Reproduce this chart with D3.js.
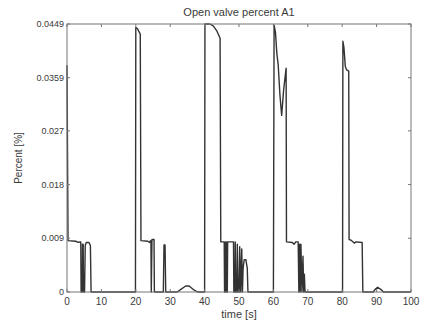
<!DOCTYPE html>
<html lang="en">
<head>
<meta charset="UTF-8">
<title>Open valve percent A1</title>
<script src="https://d3js.org/d3.v7.min.js"></script>
<style>
  body {margin:0; background:#fff;}
  text {font-family: "Liberation Sans", Arial, sans-serif; fill:#3a3a3a;}
  .tick-label {font-size:9px;}
</style>
</head>
<body>
<div id="chart"></div>
<script>
// signal samples
const time = [
  0, 0.3, 2.5, 3.3, 3.8, 4.0, 4.1, 4.4, 4.5, 4.7, 4.8, 5.1, 5.3, 5.6, 6.4, 6.8, 7.0,
  19.9, 20.0, 20.5, 21.3, 21.5, 23.5, 24.0, 24.3, 24.4, 24.5, 24.7, 25.3, 25.4,
  28.0, 28.2, 28.5, 28.7, 32.0, 33.0, 34.5, 35.5, 37.0, 38.0,
  40.0, 40.1, 41.5, 42.5, 43.5, 44.5, 44.7, 45.7, 45.8, 46.0, 46.1, 46.3, 46.4, 46.6, 46.7,
  48.4, 48.5, 48.8, 48.9, 49.1, 49.4, 49.5, 49.8, 50.1, 50.2, 50.5, 50.8, 51.0,
  51.2, 51.5, 52.0, 52.4, 52.6,
  60.0, 60.2, 60.6, 61.0, 61.4, 61.9, 62.4, 63.0, 63.7, 63.8, 65.5, 66.0, 66.5, 67.2,
  67.4, 67.6, 67.8, 68.0, 68.3, 68.6, 68.8, 69.0, 69.2,
  80.1, 80.2, 80.5, 80.9, 81.3, 81.9, 82.0, 82.5, 83.5, 84.0, 85.8, 86.0,
  89.0, 89.5, 90.3, 91.3, 92.0, 100
];
const percent = [
  0.0380, 0.0086, 0.0085, 0.0083, 0.0084, 0.0084, 0, 0, 0.0080, 0.0080, 0, 0, 0.0078, 0.0083, 0.0083, 0.0078, 0,
  0, 0.0443, 0.0441, 0.0432, 0.0086, 0.0085, 0.0083, 0.0086, 0.0084, 0, 0.0088, 0.0088, 0,
  0, 0.0079, 0.0079, 0, 0, 0.0004, 0.0010, 0.0010, 0.0003, 0,
  0, 0.0449, 0.0449, 0.0446, 0.0438, 0.0425, 0.0084, 0.0084, 0, 0, 0.0084, 0.0084, 0, 0, 0.0084,
  0.0084, 0, 0, 0.0084, 0, 0, 0.0080, 0, 0, 0.0076, 0, 0.0072, 0,
  0.0040, 0.0054, 0.0054, 0.0040, 0,
  0, 0.0447, 0.0435, 0.0400, 0.0380, 0.0330, 0.0296, 0.0340, 0.0375, 0.0084, 0.0083, 0.0080, 0.0084, 0.0084,
  0, 0.0080, 0, 0.0080, 0, 0.0060, 0, 0.0030, 0,
  0, 0.0420, 0.0410, 0.0378, 0.0372, 0.0370, 0.0088, 0.0087, 0.0082, 0.0084, 0.0083, 0,
  0, 0.0004, 0.0008, 0.0004, 0, 0
];
const xTicks = [0, 10, 20, 30, 40, 50, 60, 70, 80, 90, 100];
const yTicks = [0, 0.009, 0.018, 0.027, 0.0359, 0.0449];
const yTickLabels = ["0", "0.009", "0.018", "0.027", "0.0359", "0.0449"];

const width = 422, height = 324;
const margin = {top: 24, right: 11, bottom: 32, left: 67};
const innerW = width - margin.left - margin.right;
const innerH = height - margin.top - margin.bottom;

const svg = d3.select("#chart").append("svg")
  .attr("width", width).attr("height", height);

const x = d3.scaleLinear().domain([0, 100]).range([0, innerW]);
const y = d3.scaleLinear().domain([0, 0.0449]).range([innerH, 0]);

const g = svg.append("g").attr("transform", `translate(${margin.left},${margin.top})`);

// data line
const pts = time.map((t, i) => [t, percent[i]]);
g.append("path")
  .datum(pts)
  .attr("fill", "none")
  .attr("stroke", "#333")
  .attr("stroke-width", 1.4)
  .attr("stroke-linejoin", "round")
  .attr("d", d3.line().x(d => x(d[0])).y(d => y(d[1])));

// box
g.append("rect")
  .attr("width", innerW).attr("height", innerH)
  .attr("fill", "none").attr("stroke", "#777").attr("stroke-width", 1);

// inward ticks on all sides
const tickLen = 3;
xTicks.forEach(t => {
  g.append("line").attr("x1", x(t)).attr("x2", x(t)).attr("y1", innerH).attr("y2", innerH - tickLen).attr("stroke", "#777");
  g.append("line").attr("x1", x(t)).attr("x2", x(t)).attr("y1", 0).attr("y2", tickLen).attr("stroke", "#777");
  g.append("text").attr("class", "tick-label")
    .attr("x", x(t)).attr("y", innerH + 13)
    .attr("text-anchor", "middle").style("font-size", "10px").text(t);
});
yTicks.forEach((t, i) => {
  g.append("line").attr("x1", 0).attr("x2", tickLen).attr("y1", y(t)).attr("y2", y(t)).attr("stroke", "#777");
  g.append("line").attr("x1", innerW).attr("x2", innerW - tickLen).attr("y1", y(t)).attr("y2", y(t)).attr("stroke", "#777");
  g.append("text").attr("class", "tick-label")
    .attr("x", -3).attr("y", y(t)).attr("dy", "0.35em")
    .attr("text-anchor", "end").text(yTickLabels[i]);
});

// title and axis labels
svg.append("text")
  .attr("x", margin.left + innerW / 2).attr("y", 16)
  .attr("text-anchor", "middle").style("font-size", "11px")
  .text("Open valve percent A1");
svg.append("text")
  .attr("x", margin.left + innerW / 2).attr("y", 318)
  .attr("text-anchor", "middle").style("font-size", "11px")
  .text("time [s]");
svg.append("text")
  .attr("transform", `translate(22,${margin.top + innerH / 2}) rotate(-90)`)
  .attr("text-anchor", "middle").style("font-size", "10px")
  .text("Percent [%]");
</script>
</body>
</html>
